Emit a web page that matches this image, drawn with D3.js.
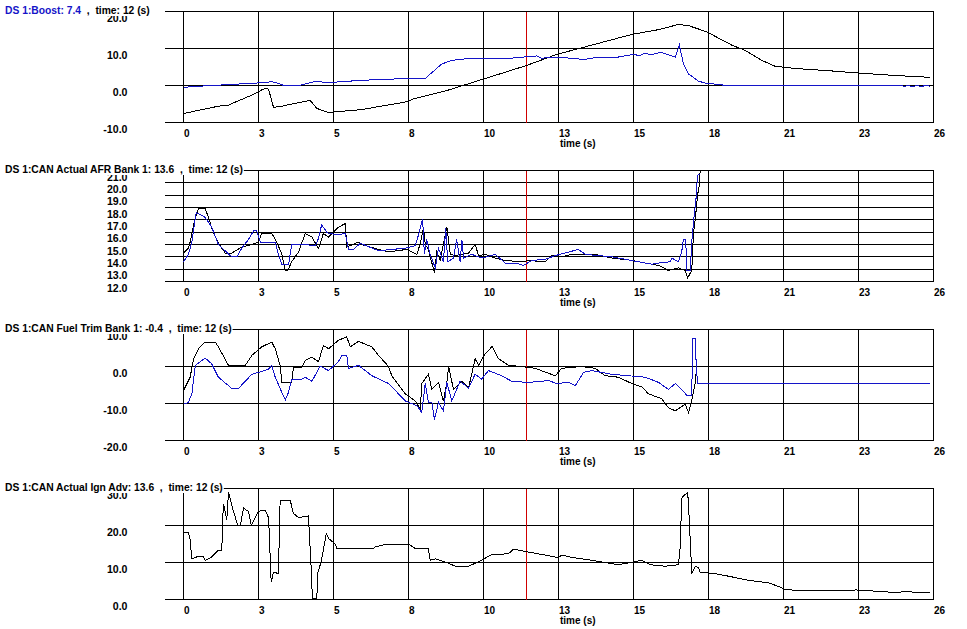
<!DOCTYPE html>
<html><head><meta charset="utf-8">
<script src="https://cdn.jsdelivr.net/npm/d3@7/dist/d3.min.js"></script>
<style>
body{margin:0;background:#fff}
svg{display:block}
text{font-family:"Liberation Sans",Arial,sans-serif;font-weight:bold;font-size:10px;white-space:pre}
text.title{font-size:10.3px}
text.ylab{font-size:10.6px}
</style>
</head><body>
<svg id="chart" width="967" height="629"></svg>
<script>
// ---------- shared axis data ----------
const xTickValues = [0, 2.6, 5.2, 7.8, 10.4, 13, 15.6, 18.2, 20.8, 23.4, 26];
const xTickLabels = ["0", "3", "5", "8", "10", "13", "15", "18", "21", "23", "26"];
const cursorTime = 11.88;
const xAxisTitle = "time (s)";

// ---------- titles ----------
const titleBoost = ["DS 1:Boost: 7.4", "  ,  time: 12 (s)"];
const titleAFR = "DS 1:CAN Actual AFR Bank 1: 13.6  ,  time: 12 (s)";
const titleTrim = "DS 1:CAN Fuel Trim Bank 1: -0.4  ,  time: 12 (s)";
const titleIgn = "DS 1:CAN Actual Ign Adv: 13.6  ,  time: 12 (s)";

// ---------- y ticks ----------
const yTicksBoost = [-10, 0, 10, 20];
const yTicksAFR = [12, 13, 14, 15, 16, 17, 18, 19, 20, 21];
const yTicksTrim = [-20, -10, 0, 10];
const yTicksIgn = [0, 10, 20, 30];

// ---------- series [time (s), value] ----------
const boostBlack = [[0,-7.6],[0.52,-6.7],[1.21,-5.6],[1.56,-5.3],[1.67,-4.9],[2.37,-2.6],[2.71,-1.2],[2.83,-0.8],[2.95,-1.0],[3.12,-5.9],[3.4,-5.6],[4.39,-4.0],[4.62,-6.2],[5.03,-7.3],[6.18,-6.5],[7.74,-4.4],[7.97,-3.6],[9.07,-1.5],[10.34,1.6],[11.85,5.3],[12.94,8.4],[15.54,13.8],[16.47,15.1],[17.16,16.5],[17.5,16.2],[18.14,14.5],[19.01,10.9],[19.47,9.5],[20.05,6.8],[20.51,5.2],[21.21,4.6],[22.36,4.0],[23.34,3.4],[24.67,2.7],[25.89,2.2]];
const boostBlue = [[0,-0.5],[0.52,-0.2],[1.67,0.3],[2.6,0.7],[3.06,1.0],[3.3,0.6],[3.47,0.0],[3.99,0.0],[4.57,1.1],[5.03,0.8],[6.18,1.4],[7.74,1.9],[8.38,1.9],[8.95,5.8],[9.3,6.8],[9.77,7.2],[11.38,7.4],[12.25,8.0],[12.4,7.4],[13.11,7.6],[13.93,7.0],[14.1,7.4],[15.08,7.7],[15.6,8.4],[15.8,8.1],[16.0,8.7],[16.2,8.3],[16.47,8.8],[16.58,8.9],[17.05,7.7],[17.19,10.9],[17.33,5.9],[17.51,3.1],[17.85,1.2],[18.14,0.5],[18.66,0.3],[18.7,0],[24.9,0],[25.0,-0.3],[25.1,0],[25.3,-0.3],[25.4,0],[25.6,-0.3],[25.7,0],[25.89,-0.2]];

const afrBlack = [[0,14.3],[0.17,14.7],[0.23,15.2],[0.35,16.6],[0.41,17.2],[0.52,17.9],[0.75,17.9],[0.87,17.2],[0.98,16.3],[1.21,15.1],[1.45,14.3],[1.67,14.3],[2.02,14.8],[2.37,15.0],[2.60,15.2],[2.71,15.9],[3.06,15.9],[3.23,15.2],[3.41,14.2],[3.53,12.9],[3.62,12.9],[3.75,13.6],[3.99,14.4],[4.22,15.9],[4.45,15.6],[4.68,14.7],[4.85,15.9],[5.03,15.6],[5.37,16.4],[5.61,16.7],[5.66,14.8],[6.07,15.2],[6.18,15.0],[6.76,14.6],[7.11,14.4],[7.74,14.6],[8.09,14.2],[8.21,15.1],[8.32,16.4],[8.38,15.0],[8.49,14.6],[8.61,13.5],[8.70,12.7],[8.78,14.4],[8.90,13.75],[9.01,15.0],[9.13,16.4],[9.25,14.2],[9.42,14.1],[9.65,14.2],[9.88,14.3],[10.11,15.0],[10.23,14.1],[10.46,14.2],[10.81,13.9],[11.15,13.7],[11.73,13.6],[11.96,13.7],[12.54,13.6],[12.77,14.1],[13.11,14.0],[13.46,14.2],[13.81,14.2],[14.27,14.2],[14.85,13.9],[15.43,13.75],[16.01,13.5],[16.47,13.3],[16.81,12.9],[17.16,13.1],[17.39,12.9],[17.48,12.3],[17.62,12.9],[17.68,16.0],[17.74,17.0],[17.82,19.0],[17.89,19.9],[17.91,21.0]];
const afrBlue = [[0,13.6],[0.17,14.2],[0.29,15.2],[0.44,17.6],[0.75,17.2],[0.98,16.4],[1.21,15.0],[1.67,14.0],[1.85,14.0],[2.02,14.7],[2.25,15.4],[2.43,16.1],[2.54,16.1],[2.66,15.2],[3.18,15.2],[3.29,14.2],[3.41,13.35],[3.64,13.35],[3.75,15.0],[4.22,15.0],[4.57,14.9],[4.68,15.5],[4.79,16.6],[4.97,16.0],[5.03,15.9],[5.37,15.8],[5.61,15.9],[5.72,14.6],[5.89,14.6],[6.13,15.1],[6.76,14.5],[7.69,14.7],[8.03,14.9],[8.15,15.8],[8.29,17.1],[8.35,14.2],[8.43,15.4],[8.55,14.2],[8.73,13.1],[8.84,14.7],[9.01,13.6],[9.09,16.3],[9.16,13.6],[9.36,13.9],[9.47,15.4],[9.59,13.6],[9.65,15.4],[9.71,13.9],[9.99,14.2],[10.34,13.9],[10.81,14.2],[11.15,13.5],[11.50,13.5],[11.79,13.3],[12.07,13.7],[12.54,13.8],[12.89,14.1],[13.69,14.6],[13.93,14.2],[14.85,14.0],[15.54,13.7],[16.24,13.4],[16.47,13.5],[16.87,13.6],[16.93,13.9],[17.16,13.6],[17.27,14.4],[17.33,15.4],[17.41,15.4],[17.45,12.9],[17.57,12.9],[17.62,15.2],[17.70,17.3],[17.77,18.8],[17.82,20.6],[17.89,20.7]];

const trimBlack = [[0,-6.5],[0.23,-2.9],[0.35,2.1],[0.52,4.8],[0.75,6.6],[1.10,6.6],[1.21,5.3],[1.56,0.3],[2.14,0.3],[2.37,3.0],[2.71,5.3],[3.06,6.6],[3.18,4.8],[3.35,0.3],[3.41,-4.3],[3.75,-4.3],[3.81,-0.2],[4.10,-0.2],[4.22,1.6],[4.45,2.5],[4.68,1.3],[4.85,5.7],[5.03,4.8],[5.37,7.1],[5.66,8.0],[5.78,5.3],[6.07,6.8],[6.53,5.3],[6.76,3.0],[7.11,0.0],[7.22,-2.5],[7.69,-7.4],[8.03,-9.3],[8.21,-11.5],[8.26,-4.6],[8.49,-2.1],[8.61,-6.2],[8.84,-4.3],[9.01,-9.3],[9.13,-4.3],[9.19,0.0],[9.36,-6.2],[9.65,-4.0],[9.88,-5.8],[9.99,-2.1],[10.11,2.1],[10.23,0.3],[10.46,3.5],[10.63,4.8],[10.69,5.5],[10.92,2.1],[11.27,0.3],[11.73,0.0],[12.19,-0.5],[12.89,-2.5],[13.11,-0.5],[13.81,0.0],[14.27,-0.5],[14.62,-2.5],[15.08,-2.9],[15.54,-4.6],[15.89,-5.5],[16.12,-7.4],[16.58,-8.7],[16.81,-11.1],[17.05,-12.0],[17.39,-10.2],[17.51,-12.5],[17.65,-8.1],[17.74,-4.3],[17.79,0.1],[25.89,0.1]];
const trimBlue = [[0,-10.2],[0.17,-9.7],[0.29,-7.4],[0.41,0.3],[0.75,2.3],[0.98,0.7],[1.21,-2.9],[1.67,-5.9],[1.91,-5.9],[2.14,-4.0],[2.37,-2.1],[2.60,-1.6],[2.95,-0.7],[3.06,0.3],[3.18,-2.9],[3.41,-7.0],[3.53,-9.0],[3.64,-7.0],[3.75,-3.4],[4.10,-3.4],[4.22,-2.9],[4.45,-4.0],[4.74,0.1],[5.03,-1.1],[5.37,1.3],[5.49,3.0],[5.66,3.0],[5.72,-0.5],[6.07,0.3],[6.53,-2.5],[7.11,-4.6],[7.69,-9.3],[8.09,-10.6],[8.26,-12.4],[8.38,-4.6],[8.49,-9.7],[8.61,-9.7],[8.70,-14.3],[8.84,-9.7],[9.01,-12.0],[9.13,-4.3],[9.30,-9.3],[9.59,-4.0],[9.88,-5.8],[10.11,-2.1],[10.34,-3.4],[10.57,-1.1],[11.03,-2.5],[11.38,-4.0],[11.96,-4.3],[12.65,-3.8],[12.94,-4.6],[13.35,-4.3],[13.58,-5.2],[13.87,-1.6],[14.15,-1.1],[14.85,-2.1],[15.43,-2.5],[16.01,-2.9],[16.47,-4.3],[16.81,-6.2],[17.05,-4.6],[17.27,-6.2],[17.45,-7.8],[17.62,-7.8],[17.65,7.5],[17.74,7.5],[17.77,1.3],[17.82,-4.6],[25.89,-4.6]];

const ignBlack = [[0,18.1],[0.17,18.1],[0.23,16.1],[0.29,11.0],[0.52,11.7],[0.69,11.7],[0.75,10.6],[0.98,11.5],[1.21,13.3],[1.33,13.3],[1.35,21.0],[1.39,25.9],[1.50,21.4],[1.56,29.1],[1.67,25.5],[1.88,20.0],[1.97,20.0],[2.08,24.7],[2.25,23.8],[2.35,20.0],[2.49,22.1],[2.60,23.8],[2.83,24.2],[2.95,22.1],[3.04,4.7],[3.12,7.4],[3.29,7.0],[3.35,26.8],[3.70,26.8],[3.81,23.3],[3.99,22.1],[4.33,22.6],[4.41,11.1],[4.47,0.2],[4.62,0.2],[4.66,7.4],[4.77,10.1],[4.91,16.1],[4.95,17.9],[5.03,16.5],[5.26,15.0],[5.32,13.8],[6.59,13.8],[6.64,14.2],[7.05,15.0],[7.80,15.0],[8.03,13.8],[8.49,13.8],[8.55,10.6],[8.73,11.0],[9.13,10.0],[9.42,9.0],[9.88,9.0],[10.17,10.0],[10.34,10.6],[10.63,12.0],[11.27,12.4],[11.44,13.6],[12.25,12.4],[12.54,12.0],[13.00,11.3],[13.11,12.0],[13.52,11.3],[14.15,10.6],[15.08,9.4],[15.89,10.6],[16.18,9.4],[16.70,9.0],[17.16,9.4],[17.22,14.2],[17.27,27.4],[17.39,28.4],[17.48,28.9],[17.53,22.1],[17.62,7.0],[17.74,9.0],[17.85,8.6],[17.91,7.4],[18.43,7.0],[18.89,6.3],[19.59,5.2],[20.28,4.5],[20.74,3.2],[20.86,2.6],[23.05,2.3],[23.29,2.6],[24.67,1.9],[25.02,2.1],[25.89,1.8]];

const BLACK = "#000000", BLUE = "#1414c8", RED = "#d00000";

const panels = [
  {title: titleBoost, titleColors: [BLUE, BLACK], domain: [-10, 20], ticks: yTicksBoost, series: [[boostBlack, BLACK], [boostBlue, BLUE]]},
  {title: [titleAFR], titleColors: [BLACK], domain: [12, 21], ticks: yTicksAFR, series: [[afrBlack, BLACK], [afrBlue, BLUE]]},
  {title: [titleTrim], titleColors: [BLACK], domain: [-20, 10], ticks: yTicksTrim, series: [[trimBlack, BLACK], [trimBlue, BLUE]]},
  {title: [titleIgn], titleColors: [BLACK], domain: [0, 30], ticks: yTicksIgn, series: [[ignBlack, BLACK]]}
];

const svg = d3.select("#chart");
const x = d3.scaleLinear().domain([0, 26]).range([183.5, 933.5]);
const gridLeft = 165;
const panelTop0 = 11.5, panelStep = 159, panelH = 111;
const snap = v => Math.round(v - 0.5) + 0.5;

panels.forEach((p, i) => {
  const top = panelTop0 + i * panelStep, bottom = top + panelH;
  const y = d3.scaleLinear().domain(p.domain).range([bottom, top]);
  const g = svg.append("g");

  // horizontal grid lines
  g.selectAll(".h").data(p.ticks).join("line")
    .attr("x1", gridLeft).attr("x2", x(26))
    .attr("y1", d => snap(y(d))).attr("y2", d => snap(y(d)))
    .attr("stroke", BLACK).attr("stroke-width", 1).attr("shape-rendering", "crispEdges");
  // vertical grid lines
  g.selectAll(".v").data(xTickValues).join("line")
    .attr("x1", d => snap(x(d))).attr("x2", d => snap(x(d)))
    .attr("y1", top).attr("y2", bottom)
    .attr("stroke", BLACK).attr("stroke-width", 1).attr("shape-rendering", "crispEdges");

  // y labels
  g.selectAll(".yl").data(p.ticks).join("text")
    .attr("class", "ylab")
    .attr("x", 127.5).attr("y", d => y(d) + 10)
    .attr("text-anchor", "end").attr("fill", BLACK)
    .text(d => d.toFixed(1));

  // x labels
  g.selectAll(".xl").data(xTickValues).join("text")
    .attr("x", d => x(d) + 0.5).attr("y", bottom + 14.5)
    .attr("fill", BLACK)
    .text((d, k) => xTickLabels[k]);
  g.append("text").attr("x", x(13) + 1.5).attr("y", bottom + 24).attr("fill", BLACK).text(xAxisTitle);

  // cursor
  g.append("line")
    .attr("x1", snap(x(cursorTime))).attr("x2", snap(x(cursorTime)))
    .attr("y1", top).attr("y2", bottom)
    .attr("stroke", RED).attr("stroke-width", 1).attr("shape-rendering", "crispEdges");

  // series
  const line = d3.line().x(d => x(d[0])).y(d => y(d[1]));
  p.series.forEach(([data, color]) => {
    g.append("path").datum(data).attr("d", line)
      .attr("fill", "none").attr("stroke", color).attr("stroke-width", 1)
      .attr("shape-rendering", "crispEdges");
  });

  // title with white background
  const tg = g.append("g");
  const bg = tg.append("rect").attr("fill", "#fff");
  const t = tg.append("text").attr("class", "title").attr("x", 5).attr("y", top + 2.5);
  p.title.forEach((s, k) => t.append("tspan").attr("fill", p.titleColors[k]).text(s));
  const bb = t.node().getBBox();
  bg.attr("x", bb.x - 2).attr("y", bb.y).attr("width", bb.width + 3).attr("height", bb.height);
});
</script>
</body></html>
